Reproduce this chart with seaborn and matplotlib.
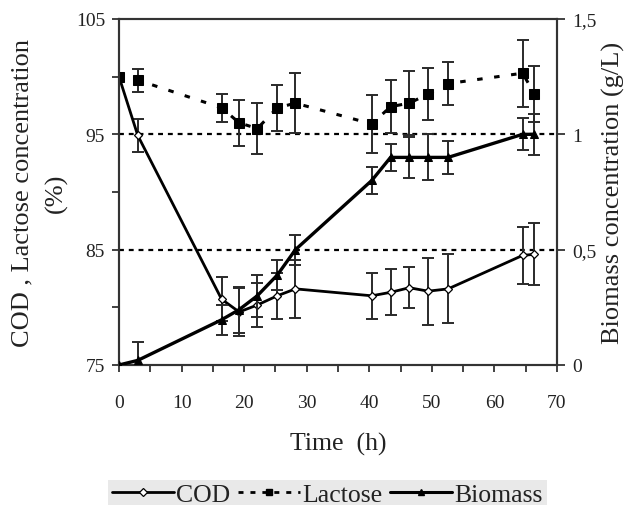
import matplotlib
matplotlib.use("Agg")
import matplotlib.pyplot as plt
from matplotlib.lines import Line2D
from matplotlib.ticker import MultipleLocator, FixedLocator
import numpy as np
import pandas as pd
import seaborn as sns

# ---- data ----
time_h = [0, 3, 16.4, 19.2, 22.1, 25.3, 28.2, 40.4, 43.4, 46.4, 49.4, 52.6, 64.5, 66.4]
cod = [100, 94.9, 80.7, 79.6, 80.2, 81.0, 81.6, 81.0, 81.3, 81.7, 81.4, 81.6, 84.5, 84.6]
cod_err = [0, 1.4, 1.9, 2.1, 1.9, 2.0, 2.5, 2.0, 2.0, 1.8, 2.9, 3.0, 2.5, 2.7]
lactose = [100, 99.7, 97.3, 96.0, 95.5, 97.3, 97.7, 95.9, 97.4, 97.7, 98.5, 99.4, 100.3, 98.5]
lactose_err = [0, 1.0, 1.2, 2.0, 2.2, 2.0, 2.6, 2.5, 2.3, 2.8, 2.25, 1.9, 2.9, 2.4]
biomass = [0, 0.02, 0.196, 0.24, 0.30, 0.39, 0.50, 0.80, 0.90, 0.90, 0.90, 0.90, 1.0, 1.0]
biomass_err = [0, 0.08, 0.065, 0.1, 0.09, 0.065, 0.065, 0.06, 0.06, 0.09, 0.1, 0.07, 0.07, 0.09]
ref_lines = [95, 85]
right_ticks = [0, 0.5, 1, 1.5]
right_labels = ["0", "0,5", "1", "1,5"]
legend_labels = ["COD", "Lactose", "Biomass"]

df = pd.DataFrame({"time": time_h, "cod": cod, "cod_err": cod_err,
                   "lactose": lactose, "lactose_err": lactose_err,
                   "biomass": biomass, "biomass_err": biomass_err})

sns.set_style("white")
plt.rcParams["font.family"] = ["Liberation Serif", "DejaVu Serif"]

fig = plt.figure(figsize=(6.25, 5.06), dpi=100)
ax = fig.add_axes([0.1904, 0.2767, 0.7008, 0.6838])
ax2 = ax.twinx()

axis_col = "#333333"
ecol = "#2a2a2a"
txt_col = "#222222"

# reference dashed lines
for v in ref_lines:
    ax.axhline(v, color="black", lw=1.6, ls=(0, (2.2, 2.2)), zorder=1)

# error bars
ax.errorbar(df["time"], df["cod"], yerr=df["cod_err"], fmt="none", ecolor=ecol,
            elinewidth=1.4, capsize=4, capthick=1.4, zorder=2)
ax.errorbar(df["time"], df["lactose"], yerr=df["lactose_err"], fmt="none", ecolor=ecol,
            elinewidth=1.4, capsize=4, capthick=1.4, zorder=2)
ax2.errorbar(df["time"], df["biomass"], yerr=df["biomass_err"], fmt="none", ecolor=ecol,
             elinewidth=1.4, capsize=4, capthick=1.4, zorder=2)

# lines
sns.lineplot(data=df, x="time", y="cod", ax=ax, color="black", lw=2.0,
             marker="D", markersize=4.5, markerfacecolor="white",
             markeredgecolor="black", markeredgewidth=0.9, zorder=3)
sns.lineplot(data=df, x="time", y="lactose", ax=ax, color="black", lw=2.2,
             linestyle=(0, (1.8, 3.8)), marker="s", markersize=7.5,
             markerfacecolor="black", markeredgecolor="black", zorder=4)
sns.lineplot(data=df, x="time", y="biomass", ax=ax2, color="black", lw=2.4,
             marker="^", markersize=6, markerfacecolor="black",
             markeredgecolor="black", zorder=3)

# axes limits and ticks
ax.set_xlim(0, 70)
ax.set_ylim(75, 105)
ax2.set_ylim(0, 1.5)
ax.xaxis.set_major_locator(MultipleLocator(10))
ax.xaxis.set_minor_locator(MultipleLocator(5))
ax.yaxis.set_major_locator(FixedLocator([75, 85, 95, 105]))
ax.yaxis.set_minor_locator(FixedLocator([80, 90, 100]))
ax2.yaxis.set_major_locator(FixedLocator(right_ticks))
ax2.set_yticklabels(right_labels)

for a in (ax, ax2):
    for s in a.spines.values():
        s.set_color(axis_col)
        s.set_linewidth(1.5)
        s.set_visible(True)

ax.tick_params(axis="both", which="both", direction="out", length=5, width=1.3,
               color=axis_col, labelsize=14, labelcolor=txt_col, pad=5)
ax.tick_params(axis="x", which="both", bottom=True, top=False, pad=16)
ax.tick_params(axis="y", which="both", left=True, right=False)
ax2.tick_params(axis="y", which="both", direction="out", length=6, width=1.3,
                color=axis_col, labelsize=14, labelcolor=txt_col, right=True, pad=5)

ax.set_xlabel("Time  (h)", fontsize=18.5, color=txt_col, labelpad=15)
ax.set_ylabel("COD , Lactose concentration\n(%)", fontsize=19, color=txt_col,
              labelpad=6, multialignment="center", linespacing=1.6)
ax2.set_ylabel("Biomass concentration (g/L)", fontsize=19, color=txt_col,
               labelpad=4)

# legend
handles = [
    Line2D([], [], color="black", lw=2.0, marker="D", markersize=4.5,
           markerfacecolor="white", markeredgecolor="black", markeredgewidth=0.9),
    Line2D([], [], color="black", lw=2.0, linestyle=(0, (1.8, 2.5)), marker="s",
           markersize=5, markerfacecolor="black"),
    Line2D([], [], color="black", lw=2.2, marker="^", markersize=5,
           markerfacecolor="black"),
]
leg = fig.legend(handles, legend_labels, loc="center", bbox_to_anchor=(0.524, 0.02),
                 ncol=3, frameon=True, facecolor="#e4e4e4", edgecolor="none",
                 fancybox=False, handlelength=2.4, handletextpad=0.1,
                 columnspacing=0.3, borderpad=0.15, fontsize=18.5)
for t in leg.get_texts():
    t.set_color(txt_col)

fig.savefig("out.png", dpi=100, facecolor="white")
